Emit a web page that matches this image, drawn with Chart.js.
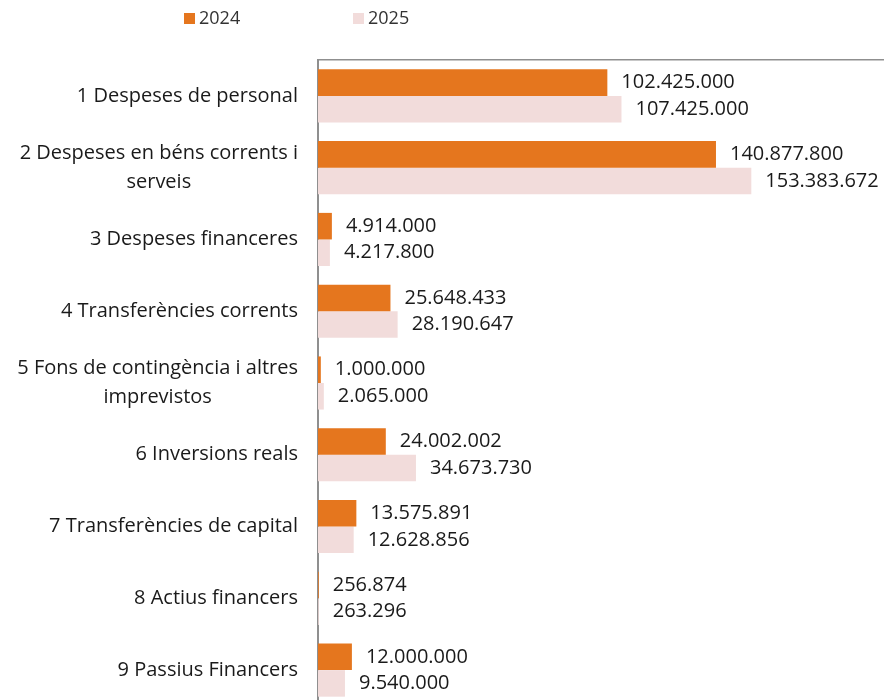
<!DOCTYPE html>
<html>
<head>
<meta charset="utf-8">
<script src="https://cdn.jsdelivr.net/npm/chart.js@4/dist/chart.umd.min.js"></script>
<style>
  html, body { margin: 0; padding: 0; background: #fff; overflow: hidden; }
  canvas { display: block; }
</style>
</head>
<body>
<canvas id="chart" width="886" height="706"></canvas>
<script>
const categories = [
  '1 Despeses de personal',
  ['2 Despeses en béns corrents i', 'serveis'],
  '3 Despeses financeres',
  '4 Transferències corrents',
  ['5 Fons de contingència i altres', 'imprevistos'],
  '6 Inversions reals',
  '7 Transferències de capital',
  '8 Actius financers',
  '9 Passius Financers'
];
const values2024 = [102425000, 140877800, 4914000, 25648433, 1000000, 24002002, 13575891, 256874, 12000000];
const values2025 = [107425000, 153383672, 4217800, 28190647, 2065000, 34673730, 12628856, 263296, 9540000];
const seriesNames = ['2024', '2025'];
const seriesColors = ['#e5761e', '#f2dcdb'];

const fontFamily = '"Open Sans", "Liberation Sans", sans-serif';

function fmt(v) {
  return String(v).replace(/\B(?=(\d{3})+(?!\d))/g, '.');
}

// value labels to the right of each bar
const valueLabels = {
  id: 'valueLabels',
  afterDatasetsDraw(chart) {
    const ctx = chart.ctx;
    ctx.save();
    ctx.font = '20px ' + fontFamily;
    ctx.fillStyle = '#1a1a1a';
    ctx.textAlign = 'left';
    ctx.textBaseline = 'middle';
    chart.data.datasets.forEach((ds, i) => {
      chart.getDatasetMeta(i).data.forEach((bar, j) => {
        ctx.fillText(fmt(ds.data[j]), bar.x + 14, bar.y);
      });
    });
    ctx.restore();
  }
};

// category labels: block right-aligned to the axis, wrapped lines centred
const categoryLabels = {
  id: 'categoryLabels',
  afterDraw(chart) {
    const ctx = chart.ctx;
    const yScale = chart.scales.y;
    const right = yScale.right - 20;
    const lineH = 29;
    ctx.save();
    ctx.font = '20px ' + fontFamily;
    ctx.fillStyle = '#1a1a1a';
    ctx.textBaseline = 'middle';
    ctx.textAlign = 'center';
    categories.forEach((lab, i) => {
      const lines = Array.isArray(lab) ? lab : [lab];
      const w = Math.max(...lines.map(l => ctx.measureText(l).width));
      const cx = right - w / 2;
      const y0 = yScale.getPixelForTick(i) - (lines.length - 1) * lineH / 2;
      lines.forEach((l, k) => ctx.fillText(l, cx, y0 + k * lineH));
    });
    ctx.restore();
  }
};

// simple legend placed like the original
const topLegend = {
  id: 'topLegend',
  afterDraw(chart) {
    const ctx = chart.ctx;
    const starts = [184, 353];
    ctx.save();
    ctx.font = '18px ' + fontFamily;
    ctx.textBaseline = 'middle';
    chart.data.datasets.forEach((ds, i) => {
      ctx.fillStyle = ds.backgroundColor;
      ctx.fillRect(starts[i], 13, 11, 11);
      ctx.fillStyle = '#333';
      ctx.fillText(ds.label, starts[i] + 15, 19);
    });
    ctx.restore();
  }
};

new Chart(document.getElementById('chart'), {
  type: 'bar',
  data: {
    labels: categories,
    datasets: [
      { label: seriesNames[0], data: values2024, backgroundColor: seriesColors[0] },
      { label: seriesNames[1], data: values2025, backgroundColor: seriesColors[1] }
    ]
  },
  options: {
    indexAxis: 'y',
    responsive: false,
    animation: false,
    layout: { padding: { top: 60, right: 3, left: 0, bottom: 0 } },
    datasets: { bar: { barPercentage: 1, categoryPercentage: 0.74 } },
    scales: {
      x: {
        position: 'top',
        min: 0,
        max: 200000000,
        ticks: { display: false },
        grid: { display: false, drawTicks: false },
        border: { display: true, color: '#8f8f8f', width: 1.5 },
        afterFit(scale) { scale.height = 0; }
      },
      y: {
        ticks: { display: false },
        grid: { display: false, drawTicks: false },
        border: { display: true, color: '#8f8f8f', width: 2 },
        afterFit(scale) { scale.width = 318; }
      }
    },
    plugins: {
      legend: { display: false },
      tooltip: { enabled: false }
    }
  },
  plugins: [valueLabels, categoryLabels, topLegend]
});
</script>
</body>
</html>
